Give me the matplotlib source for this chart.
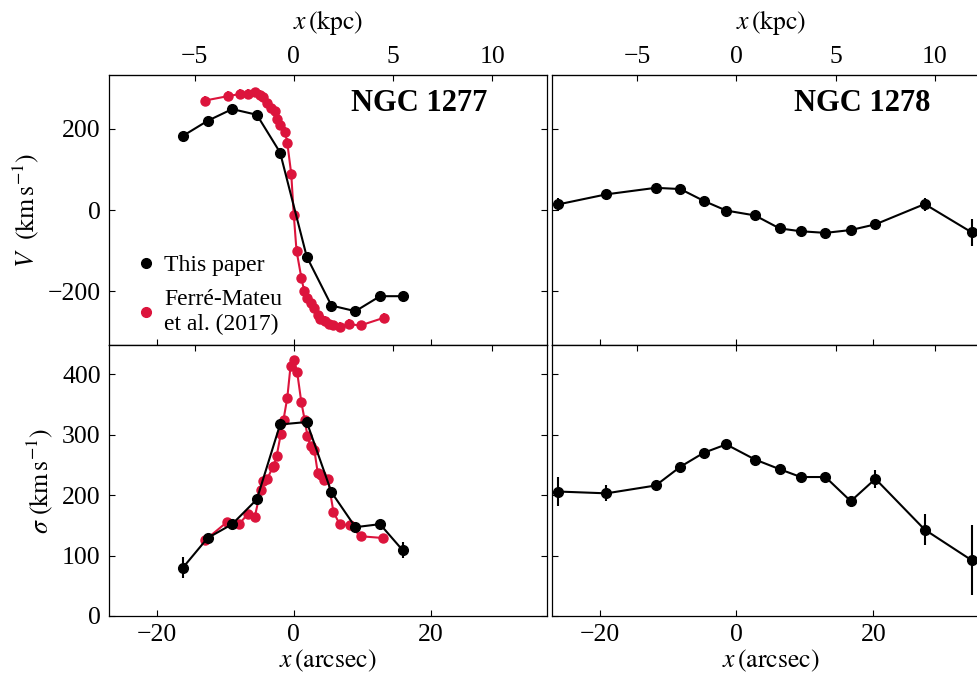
import numpy as np
import matplotlib
matplotlib.use("Agg")
import matplotlib.pyplot as plt
from matplotlib.lines import Line2D

plt.rcParams['font.family'] = ['Liberation Serif', 'DejaVu Serif']
plt.rcParams['mathtext.fontset'] = 'stix'
plt.rcParams['font.size'] = 18

# arcsec -> kpc
scale = 0.345

# NGC 1277, this paper
x77 = [-16.2, -12.6, -9.0, -5.4, -2.0, 1.9, 5.5, 9.0, 12.6, 15.9]
v77 = [183, 220, 249, 235, 142, -115, -235, -249, -212, -212]
v77_err = [6, 6, 6, 6, 6, 6, 6, 6, 6, 6]
s77 = [80, 129, 152, 193, 317, 321, 205, 147, 152, 109]
s77_err = [17, 7, 5, 5, 5, 5, 5, 5, 5, 13]

# NGC 1277, Ferre-Mateu et al. (2017)
xfm_v = [-13.0, -9.6, -7.9, -6.7, -5.7, -5.0, -4.5, -3.9, -3.3, -2.8, -2.5, -2.0,
         -1.3, -0.95, -0.37, 0.0, 0.4, 1.1, 1.5, 2.0, 2.45, 2.9, 3.5, 3.9, 4.5,
         5.1, 5.8, 6.7, 8.0, 9.75, 13.2]
vfm = [270, 281, 286, 286, 290, 284, 278, 263, 251, 245, 224, 210,
       193, 166, 89, -12, -100, -166, -198, -216, -230, -240, -259, -269, -273,
       -280, -284, -288, -281, -284, -265]
vfm_err = [12] * len(vfm)

xfm_s = [-12.9, -9.7, -8.0, -6.7, -5.7, -4.85, -4.5, -3.9, -3.1, -2.9, -2.5, -1.9,
         -1.5, -0.95, -0.47, 0.0, 0.5, 1.1, 1.6, 2.0, 2.45, 3.0, 3.5, 4.0, 4.4,
         5.0, 5.8, 6.7, 8.2, 9.75, 13.1]
sfm = [126, 156, 152, 169, 164, 208, 223, 226, 246, 249, 265, 301,
       325, 361, 414, 423, 403, 354, 324, 298, 281, 275, 237, 234, 225,
       226, 172, 152, 150, 132, 129]
sfm_err = [4] * len(sfm)

# NGC 1278, this paper
x78 = [-26.1, -19.0, -11.8, -8.2, -4.8, -1.5, 2.7, 6.3, 9.4, 13.0, 16.7, 20.3, 27.5, 34.4]
v78 = [14, 39, 55, 52, 23, -1, -13, -45, -52, -56, -49, -35, 15, -55]
v78_err = [16, 6, 5, 5, 5, 5, 5, 5, 5, 5, 5, 6, 16, 33]
s78 = [206, 203, 216, 247, 270, 284, 259, 243, 230, 230, 190, 227, 143, 92]
s78_err = [24, 13, 5, 5, 5, 5, 5, 5, 5, 5, 9, 15, 26, 58]

red = '#DC143C'
fs = 18.5

fig = plt.figure(figsize=(9.78, 6.73), dpi=100)
W = 438 / 978
axTL = fig.add_axes([109 / 978, 1 - 345.3 / 673, W, 270.3 / 673])
axTR = fig.add_axes([551.7 / 978, 1 - 345.3 / 673, W, 270.3 / 673])
axBL = fig.add_axes([109 / 978, 1 - 616 / 673, W, 270.7 / 673])
axBR = fig.add_axes([551.7 / 978, 1 - 616 / 673, W, 270.7 / 673])

kw = dict(fmt='o-', ms=7, lw=1.5, elinewidth=1.5, capsize=0)
kw_r = dict(fmt='o-', ms=6.5, lw=1.5, elinewidth=1.5, capsize=0)

axTL.errorbar(xfm_v, vfm, yerr=vfm_err, color=red, **kw_r)
axTL.errorbar(x77, v77, yerr=v77_err, color='k', **kw)
axBL.errorbar(xfm_s, sfm, yerr=sfm_err, color=red, **kw_r)
axBL.errorbar(x77, s77, yerr=s77_err, color='k', **kw)
axTR.errorbar(x78, v78, yerr=v78_err, color='k', **kw)
axBR.errorbar(x78, s78, yerr=s78_err, color='k', **kw)

for ax in [axTL, axTR, axBL, axBR]:
    ax.set_xlim(-27, 37)
    ax.set_xticks([-20, 0, 20])
    ax.tick_params(direction='in', length=4, width=0.8, top=False, right=True,
                   labelsize=fs, pad=6)
    for s in ax.spines.values():
        s.set_linewidth(0.9)
    sec = ax.secondary_xaxis('top', functions=(lambda a: a * scale, lambda k: k / scale))
    sec.set_xticks([-5, 0, 5, 10])
    sec.tick_params(direction='in', length=4, width=0.8, labelsize=fs, pad=5)
    if ax in (axTL, axTR):
        sec.set_xlabel(r'$x\,(\mathrm{kpc})$', fontsize=fs, labelpad=12)
    else:
        sec.tick_params(labeltop=False)

for ax in [axTL, axTR]:
    ax.set_ylim(-333, 333)
    ax.set_yticks([-200, 0, 200])
    ax.tick_params(labelbottom=False)
for ax in [axBL, axBR]:
    ax.set_ylim(0, 448)
    ax.set_yticks([0, 100, 200, 300, 400])
    ax.set_xlabel(r'$x\,(\mathrm{arcsec})$', fontsize=fs, labelpad=1)
for ax in [axTR, axBR]:
    ax.tick_params(labelleft=False)

axTL.set_ylabel(r'$V\ \ \left(\mathrm{km\,s^{-1}}\right)$', fontsize=18.5, labelpad=5)
axBL.set_ylabel(r'$\sigma\ \left(\mathrm{km\,s^{-1}}\right)$', fontsize=18.5, labelpad=5)

axTL.text(0.863, 0.895, 'NGC 1277', transform=axTL.transAxes, ha='right', va='center',
          fontsize=22, fontweight='bold')
axTR.text(0.864, 0.895, 'NGC 1278', transform=axTR.transAxes, ha='right', va='center',
          fontsize=22, fontweight='bold')

handles = [Line2D([], [], ls='none', marker='o', color='k', ms=7),
           Line2D([], [], ls='none', marker='o', color=red, ms=7)]
axTL.legend(handles, ['This paper', 'Ferré-Mateu\net al. (2017)'], loc='lower left',
            frameon=False, fontsize=17, handlelength=0.5, handletextpad=0.55,
            labelspacing=0.55, borderpad=0, bbox_to_anchor=(0.043, -0.005))

fig.savefig('out.png', dpi=100)
